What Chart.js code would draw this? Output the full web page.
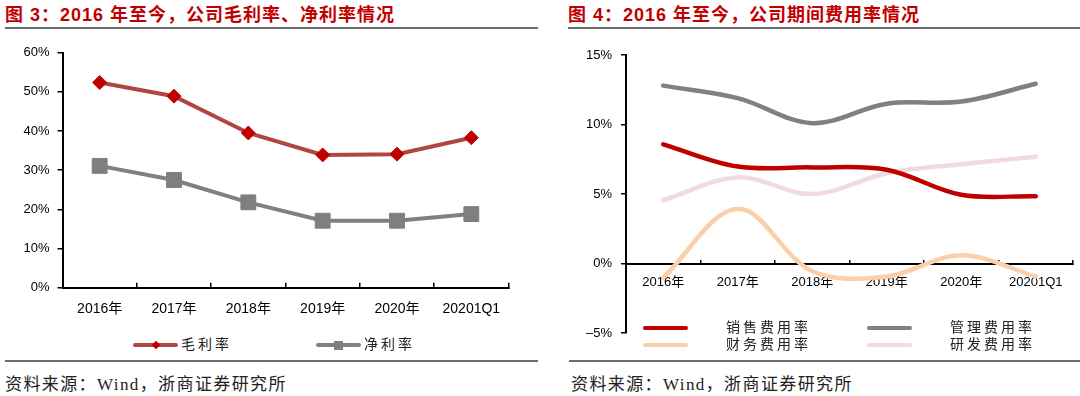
<!DOCTYPE html>
<html>
<head>
<meta charset="utf-8">
<script src="https://cdn.jsdelivr.net/npm/chart.js@4.4.1/dist/chart.umd.min.js"></script>
<style>
body { margin: 0; width: 1080px; height: 396px; background: #fff; position: relative; overflow: hidden;
  font-family: "Liberation Sans", "Noto Sans CJK SC", sans-serif; }
.title { position: absolute; top: 0; font-size: 18px; font-weight: bold; color: #C00000; letter-spacing: 1px; white-space: nowrap; }
.rule { position: absolute; height: 0; border-top: 2px solid #6e6e6e; }
.src { position: absolute; top: 370px; font-size: 17px; color: #222; letter-spacing: 1.4px; white-space: nowrap;
  font-family: "Liberation Serif", "Noto Sans CJK SC", serif; }
canvas { position: absolute; }
.leg { position: absolute; height: 16px; }
.leg .ln { position: absolute; top: 6px; height: 4px; width: 45px; border-radius: 2px; }
.leg .mk { position: absolute; }
.leg .tx { position: absolute; top: -4px; font-size: 14px; letter-spacing: 3px; color: #222; white-space: nowrap;
  font-family: "Noto Sans CJK SC", sans-serif; }
</style>
</head>
<body>
<div class="title" style="left:5px">图 3：2016 年至今，公司毛利率、净利率情况</div>
<div class="title" style="left:568px">图 4：2016 年至今，公司期间费用率情况</div>
<div class="rule" style="left:5px;width:533px;top:27px"></div>
<div class="rule" style="left:568px;width:512px;top:27px"></div>
<canvas id="left" width="540" height="300" style="left:0;top:30px"></canvas>
<canvas id="right" width="540" height="320" style="left:540px;top:30px"></canvas>
<div id="legLeft"></div>
<div id="legRight"></div>
<div class="rule" style="left:5px;width:533px;top:360px"></div>
<div class="rule" style="left:569px;width:511px;top:360px"></div>
<div class="src" style="left:5px">资料来源：Wind，浙商证券研究所</div>
<div class="src" style="left:571px">资料来源：Wind，浙商证券研究所</div>
<script>
// categories
const periods = ["2016年", "2017年", "2018年", "2019年", "2020年", "20201Q1"];

// figure 3 (%)
const grossMargin = [52.4, 48.9, 39.5, 33.9, 34.1, 38.3];
const netMargin = [31.1, 27.5, 21.8, 17.1, 17.1, 18.8];

// figure 4 (%)
const sellingRate = [8.58, 6.98, 6.92, 6.75, 4.95, 4.85];
const adminRate = [12.8, 11.9, 10.1, 11.5, 11.65, 12.93];
const financeRate = [-1.0, 3.95, -0.55, -0.92, 0.6, -0.92];
const rdRate = [4.56, 6.2, 5.0, 6.5, 7.15, 7.68];

const leftTicks = { min: 0, max: 60, step: 10 };
const rightTicks = { min: -5, max: 15, step: 5 };

Chart.defaults.font.family = '"Liberation Sans", "Noto Sans CJK SC", sans-serif';
Chart.defaults.color = "#000";

function pct(v) {
    return (v < 0 ? "\u2013" + (-v) : v) + "%";
}

const leftSets = [
    { label: "毛利率", data: grossMargin, borderColor: "#B24542", borderWidth: 4,
      pointStyle: "rectRot", pointRadius: 7, pointBackgroundColor: "#C00000", pointBorderColor: "#C00000" },
    { label: "净利率", data: netMargin, borderColor: "#808080", borderWidth: 4,
      pointStyle: "rect", pointRadius: 10.5, pointBackgroundColor: "#7F7F7F", pointBorderColor: "#7F7F7F" }
];

new Chart(document.getElementById("left"), {
    type: "line",
    data: { labels: periods, datasets: leftSets.map(d => Object.assign({ tension: 0, pointBorderWidth: 1 }, d)) },
    options: {
        responsive: false, animation: false,
        layout: { padding: { top: 22.7, right: 31.5, bottom: 0, left: 0 } },
        plugins: { legend: { display: false }, tooltip: { enabled: false } },
        scales: {
            x: {
                offset: true,
                grid: { offset: true, drawOnChartArea: false, tickLength: -5, color: "#000", lineWidth: 1.5 },
                border: { color: "#000", width: 2 },
                ticks: { font: { size: 14 }, padding: 18, maxRotation: 0, autoSkip: false },
                afterFit: s => { s.height = 42.3; }
            },
            y: {
                min: leftTicks.min, max: leftTicks.max,
                grid: { drawOnChartArea: false, tickLength: 5, color: "#000", lineWidth: 1.5 },
                border: { color: "#000", width: 2 },
                ticks: { stepSize: leftTicks.step, font: { size: 13 }, padding: 8, callback: pct },
                afterFit: s => { s.width = 62.5; }
            }
        }
    }
});

const rightSets = [
    { label: "销售费用率", data: sellingRate, borderColor: "#C00000", order: 1 },
    { label: "管理费用率", data: adminRate, borderColor: "#808080", order: 0 },
    { label: "财务费用率", data: financeRate, borderColor: "#FBCFAA", order: 3 },
    { label: "研发费用率", data: rdRate, borderColor: "#F2DCDB", order: 2 }
];

new Chart(document.getElementById("right"), {
    type: "line",
    data: { labels: periods, datasets: rightSets.map(d => Object.assign({ tension: 0.35, borderWidth: 4.5, pointRadius: 0, borderCapStyle: "round" }, d)) },
    options: {
        responsive: false, animation: false,
        layout: { padding: { top: 25, right: 7, bottom: 14.5, left: 0 } },
        plugins: { legend: { display: false }, tooltip: { enabled: false } },
        scales: {
            x: {
                position: { y: 0 },
                offset: true,
                grid: { offset: true, drawOnChartArea: false, tickLength: -5, color: "#000", lineWidth: 1.5 },
                border: { color: "#000", width: 2 },
                ticks: { font: { size: 13 }, padding: 16, maxRotation: 0, autoSkip: false }
            },
            y: {
                min: rightTicks.min, max: rightTicks.max,
                grid: { drawOnChartArea: false, tickLength: 5, color: "#000", lineWidth: 1.5 },
                border: { color: "#000", width: 2 },
                ticks: { stepSize: rightTicks.step, font: { size: 13 }, padding: 9, callback: pct },
                afterFit: s => { s.width = 86; }
            }
        }
    }
});

// legends
function legendItem(parent, x, y, set, marker) {
    const item = document.createElement("div");
    item.className = "leg";
    item.style.left = x + "px";
    item.style.top = (y - 8) + "px";
    const ln = document.createElement("div");
    ln.className = "ln";
    ln.style.background = set.borderColor;
    item.appendChild(ln);
    if (marker) {
        const mk = document.createElement("div");
        mk.className = "mk";
        mk.style.background = set.pointBackgroundColor;
        mk.style.width = marker.size + "px";
        mk.style.height = marker.size + "px";
        mk.style.left = (22.5 - marker.size / 2) + "px";
        mk.style.top = (8 - marker.size / 2) + "px";
        if (marker.rotate) mk.style.transform = "rotate(45deg)";
        item.appendChild(mk);
    }
    const tx = document.createElement("div");
    tx.className = "tx";
    tx.textContent = set.label;
    tx.style.left = marker ? "48px" : "83px";
    item.appendChild(tx);
    parent.appendChild(item);
}

const legLeft = document.getElementById("legLeft");
legendItem(legLeft, 133, 345, leftSets[0], { size: 6, rotate: true });
legendItem(legLeft, 316, 345, leftSets[1], { size: 9 });

const legRight = document.getElementById("legRight");
legendItem(legRight, 643, 328, rightSets[0]);
legendItem(legRight, 867, 328, rightSets[1]);
legendItem(legRight, 643, 345, rightSets[2]);
legendItem(legRight, 867, 345, rightSets[3]);
</script>
</body>
</html>
